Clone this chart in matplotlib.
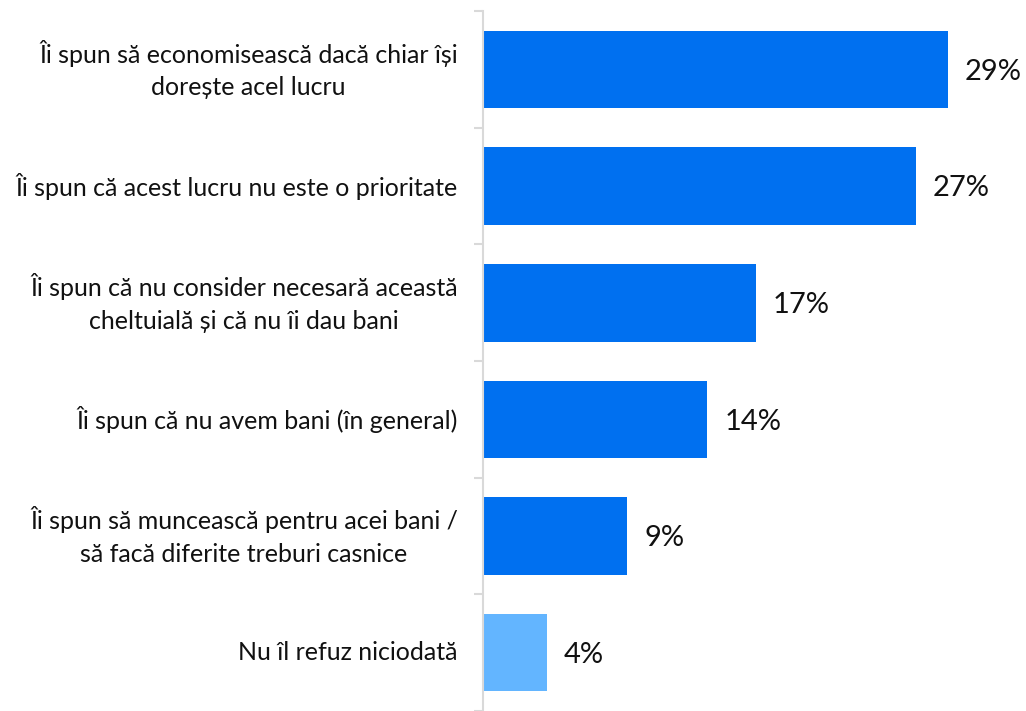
import matplotlib.pyplot as plt

# Data
labels = [
    "Îi spun să economisească dacă chiar își\ndorește acel lucru",
    "Îi spun că acest lucru nu este o prioritate",
    "Îi spun că nu consider necesară această\ncheltuială și că nu îi dau bani",
    "Îi spun că nu avem bani (în general)",
    "Îi spun să muncească pentru acei bani /\nsă facă diferite treburi casnice",
    "Nu îl refuz niciodată",
]
values = [29, 27, 17, 14, 9, 4]
colors = ["#0070F0"] * 5 + ["#63B5FF"]

plt.rcParams["font.family"] = ["Lato", "DejaVu Sans"]

fig = plt.figure(figsize=(10.26, 7.11), dpi=100)
ax = fig.add_axes([483 / 1026, 0, 1 - 483 / 1026, 1 - 11.2 / 711])

y = list(range(len(values)))
ax.barh(y, values, height=0.665, color=colors)
ax.set_ylim(5.45, -0.5)
ax.set_xlim(0, 543 / 16.03)

# value labels
for i, v in enumerate(values):
    ax.text(v + 1.05, i + 0.02, f"{v}%", va="center", ha="left", fontsize=21, color="#111111")

# category labels, centered lines, right-aligned block
for i, lab in enumerate(labels):
    ax.annotate(lab, xy=(0, i), xycoords=("axes fraction", "data"),
                xytext=(-18, 0), textcoords="offset points",
                ha="right", va="center", multialignment="center",
                fontsize=18, color="#111111", linespacing=1.5)

ax.set_yticks([k - 0.5 for k in range(len(values) + 1)])
ax.set_yticklabels([])
ax.tick_params(axis="y", length=6.5, width=1.5, color="#d9d9d9")
ax.set_xticks([])
for s in ["top", "right", "bottom"]:
    ax.spines[s].set_visible(False)
ax.spines["left"].set_color("#d9d9d9")
ax.spines["left"].set_linewidth(1.5)

fig.savefig("out.png", dpi=100)
